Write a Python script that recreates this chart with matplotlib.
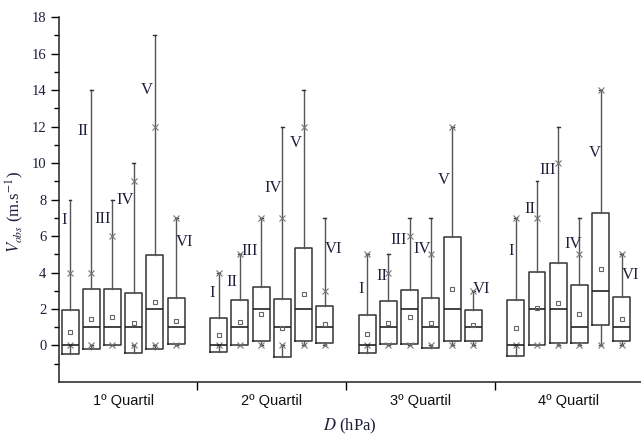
import matplotlib
matplotlib.use('Agg')
import matplotlib.pyplot as plt

# box chart: box = mean +/- sd, line = median, whiskers = min/max, x = 1%/99%
groups = ['1º Quartil', '2º Quartil', '3º Quartil', '4º Quartil']
classes = ['I', 'II', 'III', 'IV', 'V', 'VI']

means = [[0.72, 1.47, 1.58, 1.21, 2.39, 1.34],
         [0.56, 1.26, 1.72, 0.95, 2.80, 1.16],
         [0.63, 1.24, 1.56, 1.22, 3.10, 1.12],
         [0.94, 2.04, 2.35, 1.72, 4.17, 1.47]]
sds = [[1.21, 1.65, 1.53, 1.65, 2.57, 1.25],
       [0.94, 1.21, 1.48, 1.59, 2.53, 1.03],
       [1.05, 1.18, 1.47, 1.37, 2.86, 0.85],
       [1.54, 1.99, 2.19, 1.59, 3.07, 1.20]]
medians = [[0, 1, 1, 1, 2, 1],
           [0, 1, 2, 1, 2, 1],
           [0, 1, 2, 1, 2, 1],
           [0, 2, 2, 1, 3, 1]]
mins = [[0, 0, 0, 0, 0, 0],
        [0, 0, 0, 0, 0, 0],
        [0, 0, 0, 0, 0, 0],
        [0, 0, 0, 0, 0, 0]]
maxs = [[8, 14, 8, 10, 17, 7],
        [4, 5, 7, 12, 14, 7],
        [5, 5, 7, 7, 12, 3],
        [7, 9, 12, 7, 14, 5]]
p1 = [[0, 0, 0, 0, 0, 0],
      [0, 0, 0, 0, 0, 0],
      [0, 0, 0, 0, 0, 0],
      [0, 0, 0, 0, 0, 0]]
p99 = [[4, 4, 6, 9, 12, 7],
       [4, 5, 7, 7, 12, 3],
       [5, 4, 6, 5, 12, 3],
       [7, 7, 10, 5, 14, 5]]

# where the roman numeral labels sit (x offset from box, y value)
label_dx = [[-0.28, -0.39, -0.45, -0.41, -0.37, 0.42],
            [-0.31, -0.37, -0.52, -0.45, -0.35, 0.42],
            [-0.29, -0.32, -0.54, -0.39, -0.38, 0.39],
            [-0.24, -0.35, -0.50, -0.31, -0.27, 0.41]]
label_y = [[6.87, 11.76, 6.92, 7.97, 14.0, 5.66],
           [2.87, 3.48, 5.16, 8.61, 11.12, 5.31],
           [3.11, 3.79, 5.77, 5.31, 9.07, 3.11],
           [5.16, 7.51, 9.62, 5.55, 10.53, 3.85]]

plt.rcParams['font.family'] = ['Liberation Serif', 'DejaVu Serif']
plt.rcParams['mathtext.fontset'] = 'stix'
txt_color = '#1c1f3a'

fig = plt.figure(figsize=(6.41, 4.38), dpi=100)
ax = fig.add_axes([0.092, 0.128, 0.908, 0.8326])

stats, positions = [], []
for g in range(len(groups)):
    for k in range(len(classes)):
        m, s = means[g][k], sds[g][k]
        stats.append(dict(med=medians[g][k], q1=m - s, q3=m + s,
                          whislo=mins[g][k], whishi=maxs[g][k], mean=m,
                          fliers=[p1[g][k], p99[g][k]]))
        positions.append(g * 7 + k)

ax.bxp(stats, positions=positions, widths=0.8, showmeans=True, capwidths=0.14,
       boxprops=dict(color='#333333', linewidth=1.1),
       medianprops=dict(color='#222222', linewidth=1.2),
       whiskerprops=dict(color='#555555', linewidth=1.0),
       capprops=dict(color='#333333', linewidth=1.0),
       meanprops=dict(marker='s', markerfacecolor='none', markeredgecolor='#666666',
                      markeredgewidth=0.8, markersize=3.5),
       flierprops=dict(marker='x', markeredgecolor='#777777', markeredgewidth=0.8,
                       markersize=4))

for g in range(len(groups)):
    for k, name in enumerate(classes):
        ax.text(g * 7 + k + label_dx[g][k], label_y[g][k], name, ha='center', va='center',
                fontsize=12, color=txt_color)

ax.set_xlim(-0.52, 26.9)
ax.set_ylim(-2, 18)
ax.spines['top'].set_visible(False)
ax.spines['right'].set_visible(False)
for sp in ['left', 'bottom']:
    ax.spines[sp].set_linewidth(1.1)
    ax.spines[sp].set_color('#222222')

ax.set_yticks(range(0, 19, 2))
ax.set_yticks(range(-1, 18, 2), minor=True)
ax.tick_params(axis='y', which='major', length=6, width=1, labelsize=10.5,
               labelcolor=txt_color, pad=3)
ax.tick_params(axis='y', which='minor', length=3.5, width=1)

ax.set_xticks([6, 13, 20])
ax.set_xticklabels([])
ax.set_xticks([2.5, 9.5, 16.5, 23.5], minor=True)
ax.set_xticklabels(groups, minor=True, family=['Liberation Sans', 'DejaVu Sans'],
                   fontsize=10.5, color='#111111')
ax.tick_params(axis='x', which='major', length=6, width=1)
ax.tick_params(axis='x', which='minor', length=0, pad=9)

ax.set_ylabel(r'$V_{obs}$ (m.s$^{-1}$)', fontsize=12, color=txt_color)
ax.yaxis.set_label_coords(-0.057, 0.466)
ax.set_xlabel(r'$D$ (hPa)', fontsize=12, color=txt_color)
ax.xaxis.set_label_coords(0.5, -0.095)

fig.savefig('out.png', dpi=100)
